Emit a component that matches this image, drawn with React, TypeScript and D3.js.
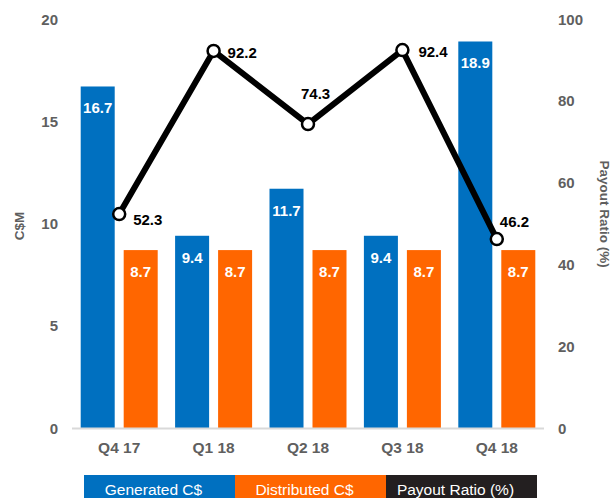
import React from "react";
import * as d3 from "d3";

const categories = ["Q4 17", "Q1 18", "Q2 18", "Q3 18", "Q4 18"];
const generated = [16.7, 9.4, 11.7, 9.4, 18.9];
const distributed = [8.7, 8.7, 8.7, 8.7, 8.7];
const payoutRatio = [52.3, 92.2, 74.3, 92.4, 46.2];
const leftTicks = [0, 5, 10, 15, 20];
const rightTicks = [0, 20, 40, 60, 80, 100];
const seriesNames = ["Generated C$", "Distributed C$", "Payout Ratio (%)"];

// label placement offsets for the payout ratio labels (style only)
const ratioLabelDx = [14, 14, -7, 16, 3];
const ratioLabelDy = [5, 2, -31, 1, -18];

const W = 614;
const H = 498;
const BLUE = "#0070C0";
const ORANGE = "#FF6600";
const DARK = "#231F20";
const GRAY = "#5f5f5f";
const FONT = "'Liberation Sans', Arial, sans-serif";

export default function App() {
  const x0 = d3.scaleBand<string>().domain(categories).range([72, 544]).paddingInner(0).paddingOuter(0);
  const x1 = d3
    .scaleBand<string>()
    .domain(["gen", "dist"])
    .range([0, x0.bandwidth()])
    .paddingInner(0.209)
    .paddingOuter(0.2023);
  const yL = d3.scaleLinear().domain([0, 20]).range([428, 19]);
  const yR = d3.scaleLinear().domain([0, 100]).range([428, 19]);

  const cx = (c: string) => (x0(c) ?? 0) + x0.bandwidth() / 2;
  const linePath = d3
    .line<number>()
    .x((_, i) => cx(categories[i]))
    .y((d) => yR(d))(payoutRatio);

  const legendX = d3.scaleBand<string>().domain(seriesNames).range([84, 537]);
  const legendColors = [BLUE, ORANGE, DARK];

  return (
    <div style={{ position: "fixed", left: 0, top: 0 }}>
      <svg width={W} height={H} style={{ display: "block", fontFamily: FONT }}>
        <rect x={0} y={0} width={W} height={H} fill="#fff" />
        {/* bars */}
        {categories.map((c, i) => {
          const bx = x0(c) ?? 0;
          const gx = bx + (x1("gen") ?? 0);
          const dx = bx + (x1("dist") ?? 0);
          const bw = x1.bandwidth();
          return (
            <g key={c}>
              <rect x={gx} y={yL(generated[i])} width={bw} height={yL(0) - yL(generated[i])} fill={BLUE} />
              <rect x={dx} y={yL(distributed[i])} width={bw} height={yL(0) - yL(distributed[i])} fill={ORANGE} />
              <text x={gx + bw / 2} y={yL(generated[i]) + 27} textAnchor="middle" fill="#fff" fontWeight="bold" fontSize={15}>
                {generated[i].toFixed(1)}
              </text>
              <text x={dx + bw / 2} y={yL(distributed[i]) + 27} textAnchor="middle" fill="#fff" fontWeight="bold" fontSize={15}>
                {distributed[i].toFixed(1)}
              </text>
              <text x={cx(c)} y={453} textAnchor="middle" fill={GRAY} fontWeight="bold" fontSize={15.5}>
                {c}
              </text>
            </g>
          );
        })}
        {/* baseline */}
        <line x1={72} x2={544} y1={yL(0) + 0.5} y2={yL(0) + 0.5} stroke="#d9d9d9" strokeWidth={2} />
        {/* left ticks */}
        {leftTicks.map((t) => (
          <text key={"l" + t} x={58} y={yL(t) + 5.5} textAnchor="end" fill={GRAY} fontWeight="bold" fontSize={15}>
            {t}
          </text>
        ))}
        {/* right ticks */}
        {rightTicks.map((t) => (
          <text key={"r" + t} x={558} y={yR(t) + 5.5} textAnchor="start" fill={GRAY} fontWeight="bold" fontSize={15}>
            {t}
          </text>
        ))}
        {/* axis titles */}
        <text transform={`translate(24,226) rotate(-90)`} textAnchor="middle" fill={GRAY} fontWeight="bold" fontSize={13.5}>
          C$M
        </text>
        <text transform={`translate(600,214) rotate(90)`} textAnchor="middle" fill={GRAY} fontWeight="bold" fontSize={13.5}>
          Payout Ratio (%)
        </text>
        {/* line */}
        <path d={linePath ?? ""} fill="none" stroke="#000" strokeWidth={6} strokeLinejoin="round" />
        {payoutRatio.map((v, i) => (
          <g key={"p" + i}>
            <circle cx={cx(categories[i])} cy={yR(v)} r={6} fill="#fff" stroke="#000" strokeWidth={2.5} />
            <text
              x={cx(categories[i]) + ratioLabelDx[i]}
              y={yR(v) + ratioLabelDy[i] + 5.5}
              textAnchor="start"
              fill="#000"
              fontWeight="bold"
              fontSize={15}
            >
              {v.toFixed(1)}
            </text>
          </g>
        ))}
        {/* legend */}
        {seriesNames.map((s, i) => {
          const lx = legendX(s) ?? 0;
          return (
            <g key={s}>
              <rect x={lx} y={475} width={legendX.bandwidth()} height={30} fill={legendColors[i]} />
              <text x={lx + legendX.bandwidth() / 2 - 6} y={495} textAnchor="middle" fill="#fff" fontSize={15.5}>
                {s}
              </text>
            </g>
          );
        })}
      </svg>
    </div>
  );
}
